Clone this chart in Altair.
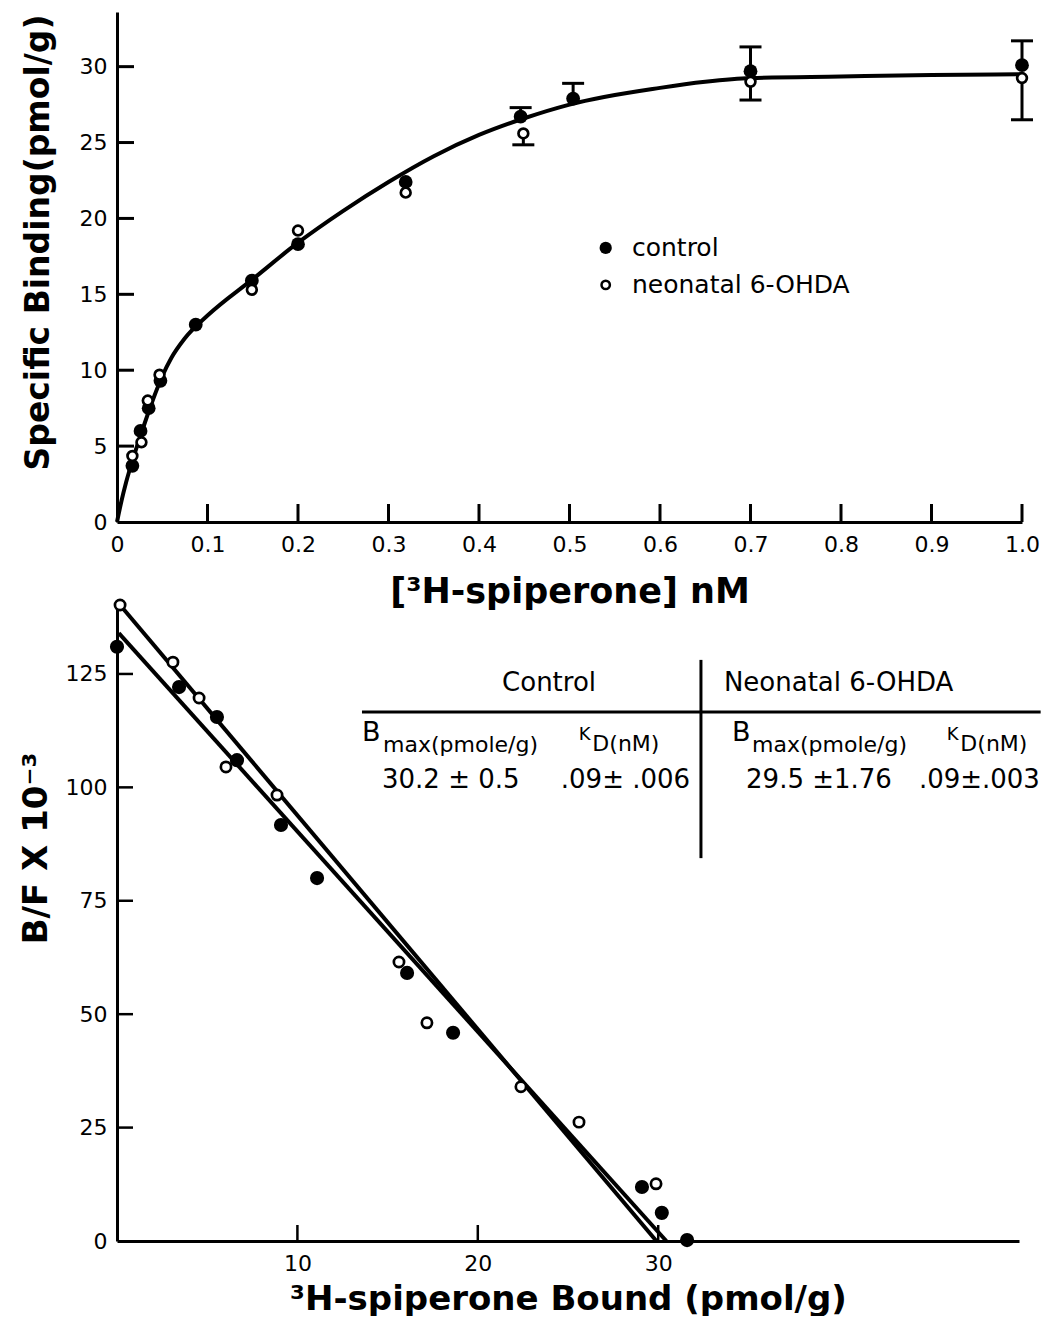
import altair as alt
import pandas as pd

FONT = "DejaVu Sans"

# ---------------- Top panel: saturation binding ----------------
ctrl_conc = [0.017, 0.026, 0.035, 0.048, 0.087, 0.149, 0.200, 0.319, 0.446, 0.504, 0.700, 1.000]
ctrl_bind = [3.7, 6.0, 7.5, 9.3, 13.0, 15.9, 18.3, 22.4, 26.7, 27.9, 29.7, 30.1]
neo_conc = [0.017, 0.027, 0.034, 0.047, 0.149, 0.200, 0.319, 0.449, 0.700, 1.000]
neo_bind = [4.35, 5.25, 8.0, 9.7, 15.3, 19.2, 21.7, 25.6, 29.0, 29.25]

curve_conc = [0, 0.005, 0.01, 0.02, 0.03, 0.04, 0.05, 0.06, 0.075, 0.1, 0.15, 0.2, 0.25,
              0.3, 0.35, 0.4, 0.45, 0.5, 0.6, 0.65, 0.7, 0.8, 0.9, 1.0]
curve_bind = [0, 1.4, 2.6, 4.6, 6.4, 8.1, 9.6, 10.8, 12.1, 13.6, 16.0, 18.4, 20.5,
              22.4, 24.1, 25.5, 26.6, 27.5, 28.6, 29.0, 29.25, 29.35, 29.45, 29.5]

err_conc = [0.446, 0.449, 0.504, 0.700, 0.700, 1.000, 1.000]
err_from = [26.7, 25.6, 27.9, 29.7, 29.0, 30.1, 29.25]
err_to = [27.3, 24.85, 28.9, 31.3, 27.8, 31.7, 26.5]

top_xticks = [0.1, 0.2, 0.3, 0.4, 0.5, 0.6, 0.7, 0.8, 0.9, 1.0]
top_xlabels = [0, 0.1, 0.2, 0.3, 0.4, 0.5, 0.6, 0.7, 0.8, 0.9, 1.0]
top_yticks = [5, 10, 15, 20, 25, 30]
top_ylabels = [0, 5, 10, 15, 20, 25, 30]

legend_x = [0.540, 0.540]
legend_y = [18.06, 15.62]
legend_txt_x = [0.569, 0.569]
legend_txt = ["control", "neonatal 6-OHDA"]
legend_kind = ["control", "neonatal"]

# ---------------- Bottom panel: Scatchard ----------------
sc_ctrl_x = [0.0, 3.44, 5.54, 6.65, 9.09, 11.09, 16.08, 18.63, 29.1, 30.2, 31.6]
sc_ctrl_y = [131.0, 122.1, 115.5, 106.0, 91.7, 80.0, 59.1, 45.9, 11.9, 6.2, 0.2]
sc_neo_x = [0.17, 3.10, 4.55, 6.04, 8.87, 15.63, 17.18, 22.39, 25.61, 29.88]
sc_neo_y = [140.2, 127.6, 119.7, 104.5, 98.3, 61.5, 48.1, 34.0, 26.2, 12.6]

line_ctrl_x = [0.1, 30.45]
line_ctrl_y = [134.0, 0.0]
line_neo_x = [0.17, 29.9]
line_neo_y = [140.2, 0.0]

bot_xticks = [10, 20, 30]
bot_yticks = [25, 50, 75, 100, 125]
bot_ylabels = [0, 25, 50, 75, 100, 125]

# table text
tbl_head_x = [23.95, 40.0]
tbl_head_y = [123.0, 123.0]
tbl_head = ["Control", "Neonatal 6-OHDA"]

tbl_B_x = [13.58, 34.09]
tbl_B_y = [112.0, 112.0]
tbl_B = ["B", "B"]
tbl_sub_x = [14.75, 35.2]
tbl_sub_y = [109.4, 109.4]
tbl_sub = ["max(pmole/g)", "max(pmole/g)"]
tbl_K_x = [25.6, 46.0]
tbl_K_y = [111.6, 111.6]
tbl_K = ["K", "K"]
tbl_D_x = [26.35, 46.75]
tbl_D_y = [109.6, 109.6]
tbl_D = ["D(nM)", "D(nM)"]
tbl_val_x = [14.69, 24.6, 34.87, 44.45]
tbl_val_y = [101.6, 101.6, 101.6, 101.6]
tbl_val = ["30.2 ± 0.5", ".09± .006", "29.5 ±1.76", ".09±.003"]

tbl_hline = {"x": [13.58], "x2": [51.2], "y": [116.6]}
tbl_vline = {"x": [32.37], "y": [128.1], "y2": [84.4]}

# ---------------- encodings ----------------
TOP_W, TOP_H = 905, 510
BOT_W, BOT_H = 902, 636

common_axis = dict(ticks=False, tickSize=0, grid=False, domainWidth=3, domainColor="black",
                   labelFont=FONT, labelFontSize=22, labelColor="black",
                   titleFont=FONT, titleFontWeight="bold", titleColor="black",
                   labelOverlap=False, labelFlush=False)

top_x_axis = alt.Axis(values=top_xlabels, title="[³H-spiperone] nM",
                      labelExpr="datum.value == 0 ? '0' : format(datum.value, '.1f')",
                      labelPadding=12, titleFontSize=35, titlePadding=19, **common_axis)
top_y_axis = alt.Axis(values=top_ylabels, title="Specific Binding(pmol/g)",
                      labelPadding=10, titleFontSize=33, titlePadding=24, titleY=230,
                      **common_axis)
bot_x_axis = alt.Axis(values=bot_xticks, title="³H-spiperone Bound (pmol/g)",
                      labelPadding=12, titleFontSize=34, titlePadding=8, **common_axis)
bot_y_axis = alt.Axis(values=bot_ylabels, title="B/F X 10⁻³",
                      labelPadding=10, titleFontSize=34, titlePadding=12, titleY=243,
                      **common_axis)

top_xs = alt.Scale(domain=[0, 1.0], nice=False, zero=False)
top_ys = alt.Scale(domain=[0, 33.6], nice=False, zero=False)
bot_xs = alt.Scale(domain=[0, 50], nice=False, zero=False)
bot_ys = alt.Scale(domain=[0, 140.2], nice=False, zero=False)


def TX(f="x"):
    return alt.X(f + ":Q", scale=top_xs, axis=top_x_axis)


def TY(f="y"):
    return alt.Y(f + ":Q", scale=top_ys, axis=top_y_axis)


def BX(f="x"):
    return alt.X(f + ":Q", scale=bot_xs, axis=bot_x_axis)


def BY(f="y"):
    return alt.Y(f + ":Q", scale=bot_ys, axis=bot_y_axis)


# ---------------- top layers ----------------
df_curve = pd.DataFrame({"x": curve_conc, "y": curve_bind})
df_ctrl = pd.DataFrame({"x": ctrl_conc, "y": ctrl_bind})
df_neo = pd.DataFrame({"x": neo_conc, "y": neo_bind})
df_err = pd.DataFrame({"x": err_conc, "y": err_from, "y2": err_to})
df_tx = pd.DataFrame({"x": top_xticks})
df_ty = pd.DataFrame({"y": top_yticks})
df_leg = pd.DataFrame({"x": legend_x, "y": legend_y, "tx": legend_txt_x,
                       "t": legend_txt, "k": legend_kind})

t_xticks = alt.Chart(df_tx).mark_rule(color="black", strokeWidth=3).encode(
    x=TX(), y=alt.value(TOP_H), y2=alt.value(TOP_H - 18))
t_yticks = alt.Chart(df_ty).mark_rule(color="black", strokeWidth=3).encode(
    y=TY(), x=alt.value(0), x2=alt.value(17))
t_err = alt.Chart(df_err).mark_rule(color="black", strokeWidth=3).encode(
    x=TX(), y=TY(), y2="y2:Q")
t_caps = alt.Chart(df_err).mark_tick(color="black", orient="horizontal", size=22,
                                     thickness=3, opacity=1).encode(x=TX(), y=TY("y2"))
t_curve = alt.Chart(df_curve).mark_line(color="black", strokeWidth=4,
                                        interpolate="monotone").encode(x=TX(), y=TY())
t_ctrl = alt.Chart(df_ctrl).mark_point(shape="circle", filled=True, color="black",
                                       size=190, opacity=1).encode(x=TX(), y=TY())
t_neo = alt.Chart(df_neo).mark_point(shape="circle", filled=True, fill="white",
                                     stroke="black", strokeWidth=2.7, size=95,
                                     opacity=1).encode(x=TX(), y=TY())
t_leg_c = alt.Chart(df_leg[df_leg.k == "control"]).mark_point(
    shape="circle", filled=True, color="black", size=150, opacity=1).encode(x=TX(), y=TY())
t_leg_n = alt.Chart(df_leg[df_leg.k == "neonatal"]).mark_point(
    shape="circle", filled=True, fill="white", stroke="black", strokeWidth=2.5,
    size=70, opacity=1).encode(x=TX(), y=TY())
t_leg_t = alt.Chart(df_leg).mark_text(align="left", baseline="middle", font=FONT,
                                      fontSize=25, color="black").encode(
    x=TX("tx"), y=TY(), text="t:N")

top = alt.layer(t_curve, t_err, t_caps, t_ctrl, t_neo, t_xticks, t_yticks,
                t_leg_c, t_leg_n, t_leg_t).properties(width=TOP_W, height=TOP_H)

# ---------------- bottom layers ----------------
df_lines = pd.DataFrame({
    "x": line_ctrl_x + line_neo_x,
    "y": line_ctrl_y + line_neo_y,
    "g": ["control"] * len(line_ctrl_x) + ["neonatal"] * len(line_neo_x)})
df_sc_ctrl = pd.DataFrame({"x": sc_ctrl_x, "y": sc_ctrl_y})
df_sc_neo = pd.DataFrame({"x": sc_neo_x, "y": sc_neo_y})
df_bx = pd.DataFrame({"x": bot_xticks})
df_by = pd.DataFrame({"y": bot_yticks})

b_lines = alt.Chart(df_lines).mark_line(color="black", strokeWidth=4).encode(
    x=BX(), y=BY(), detail="g:N")
b_ctrl = alt.Chart(df_sc_ctrl).mark_point(shape="circle", filled=True, color="black",
                                          size=200, opacity=1).encode(x=BX(), y=BY())
b_neo = alt.Chart(df_sc_neo).mark_point(shape="circle", filled=True, fill="white",
                                        stroke="black", strokeWidth=2.7, size=105,
                                        opacity=1).encode(x=BX(), y=BY())
b_xticks = alt.Chart(df_bx).mark_rule(color="black", strokeWidth=2.5).encode(
    x=BX(), y=alt.value(BOT_H), y2=alt.value(BOT_H - 16))
b_yticks = alt.Chart(df_by).mark_rule(color="black", strokeWidth=2.5).encode(
    y=BY(), x=alt.value(0), x2=alt.value(16))

df_head = pd.DataFrame({"x": tbl_head_x, "y": tbl_head_y, "t": tbl_head})
df_B = pd.DataFrame({"x": tbl_B_x, "y": tbl_B_y, "t": tbl_B})
df_sub = pd.DataFrame({"x": tbl_sub_x, "y": tbl_sub_y, "t": tbl_sub})
df_K = pd.DataFrame({"x": tbl_K_x, "y": tbl_K_y, "t": tbl_K})
df_D = pd.DataFrame({"x": tbl_D_x, "y": tbl_D_y, "t": tbl_D})
df_val = pd.DataFrame({"x": tbl_val_x, "y": tbl_val_y, "t": tbl_val})

b_head = alt.Chart(df_head).mark_text(align="center", baseline="middle", font=FONT,
                                      fontSize=26, color="black").encode(
    x=BX(), y=BY(), text="t:N")
b_B = alt.Chart(df_B).mark_text(align="left", baseline="middle", font=FONT,
                                fontSize=27, color="black").encode(x=BX(), y=BY(), text="t:N")
b_sub = alt.Chart(df_sub).mark_text(align="left", baseline="middle", font=FONT,
                                    fontSize=22, color="black").encode(x=BX(), y=BY(), text="t:N")
b_K = alt.Chart(df_K).mark_text(align="left", baseline="middle", font=FONT,
                                fontSize=18, color="black").encode(x=BX(), y=BY(), text="t:N")
b_D = alt.Chart(df_D).mark_text(align="left", baseline="middle", font=FONT,
                                fontSize=22, color="black").encode(x=BX(), y=BY(), text="t:N")
b_val = alt.Chart(df_val).mark_text(align="left", baseline="middle", font=FONT,
                                    fontSize=26, color="black").encode(x=BX(), y=BY(), text="t:N")
b_hline = alt.Chart(pd.DataFrame(tbl_hline)).mark_rule(color="black", strokeWidth=3).encode(
    x=BX(), x2="x2:Q", y=BY())
b_vline = alt.Chart(pd.DataFrame(tbl_vline)).mark_rule(color="black", strokeWidth=3).encode(
    x=BX(), y=BY(), y2="y2:Q")

bottom = alt.layer(b_lines, b_ctrl, b_neo, b_xticks, b_yticks, b_hline, b_vline,
                   b_head, b_B, b_sub, b_K, b_D, b_val).properties(width=BOT_W, height=BOT_H)

chart = alt.vconcat(top, bottom, spacing=83, bounds="flush").properties(
    padding={"left": 11, "top": 4, "right": 0, "bottom": 0},
    background="white",
).configure_view(strokeWidth=0, stroke="transparent")

chart.save("out.html", embed_options={"renderer": "svg", "actions": False})
